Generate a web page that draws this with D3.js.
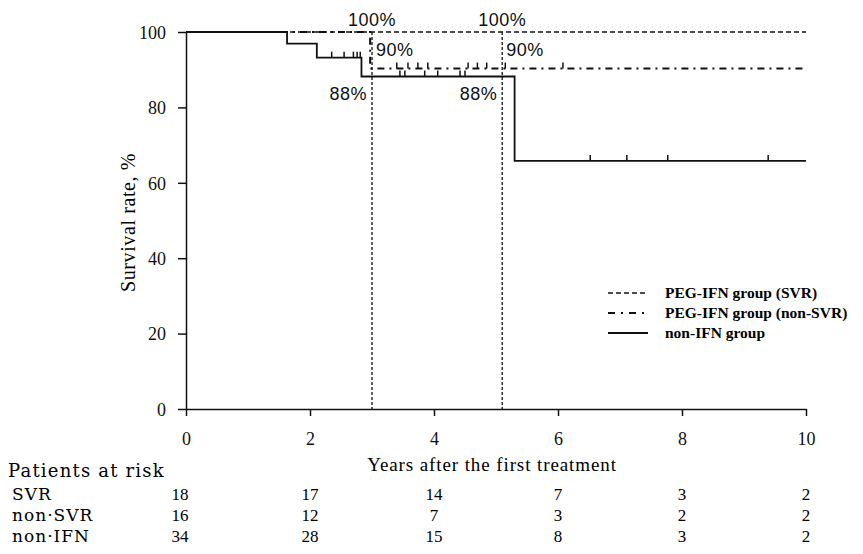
<!DOCTYPE html>
<html>
<head>
<meta charset="utf-8">
<script src="https://cdn.jsdelivr.net/npm/d3@7"></script>
<style>
  body { margin: 0; background: #fff; }
  svg { display: block; }
  .serif { font-family: "Liberation Serif", "DejaVu Serif", serif; }
  .wide { font-family: "DejaVu Serif", serif; }
  .sans { font-family: "Liberation Sans", Arial, sans-serif; }
</style>
</head>
<body>
<div id="chart"></div>
<script>
// x ticks (years) and risk table
const yearTicks = [0, 2, 4, 6, 8, 10];
const yTicks = [0, 20, 40, 60, 80, 100];
const riskGroups = ['SVR', 'non·SVR', 'non·IFN'];
const riskSVR = [18, 17, 14, 7, 3, 2];
const riskNonSVR = [16, 12, 7, 3, 2, 2];
const riskNonIFN = [34, 28, 15, 8, 3, 2];

// Kaplan-Meier steps: [time, survival after that time]
const svrSteps = [[0, 100], [10, 100]];
const nonSvrSteps = [[0, 100], [2.97, 90.3], [10, 90.3]];
const nonIfnSteps = [[0, 100], [1.63, 96.9], [2.11, 93.2], [2.83, 88.2], [5.3, 65.8], [10, 65.8]];

// censoring marks (years)
const nonSvrCensor = [3.4, 3.58, 3.74, 3.9, 4.55, 4.7, 4.85, 5.15, 6.08];
const nonIfnCensor = [2.35, 2.55, 2.7, 2.76, 2.81, 3.45, 3.53, 3.85, 4.06, 4.42, 4.5, 6.52, 7.11, 7.77, 9.39];

// reference time points and annotation labels
const refYears = [3, 5.1];
const svrLabels = ['100%', '100%'];
const nonSvrLabels = ['90%', '90%'];
const nonIfnLabels = ['88%', '88%'];

const legendNames = ['PEG-IFN group (SVR)', 'PEG-IFN group (non-SVR)', 'non-IFN group'];

const W = 863, H = 554;
const svg = d3.select('#chart').append('svg').attr('width', W).attr('height', H);

const x = d3.scaleLinear().domain([0, 10]).range([186, 806]);
const y = d3.scaleLinear().domain([0, 100]).range([409, 32]);

// axes
const xAxis = svg.append('g')
    .attr('transform', `translate(0,${y(0)})`)
    .call(d3.axisBottom(x).tickValues(yearTicks).tickSize(7).tickSizeOuter(0).tickPadding(16));
const yAxis = svg.append('g')
    .attr('transform', `translate(${x(0)},0)`)
    .call(d3.axisLeft(y).tickValues(yTicks).tickSize(8).tickSizeOuter(0).tickPadding(12));

[xAxis, yAxis].forEach(a => {
    a.selectAll('path, line').attr('stroke', '#111').attr('stroke-width', 1.5);
    a.selectAll('text').attr('class', 'serif').style('font-size', '18px').attr('fill', '#111');
});
yAxis.selectAll('text').attr('dy', '0.35em');

// axis titles
svg.append('text')
    .attr('class', 'serif')
    .attr('x', 492).attr('y', 471)
    .attr('text-anchor', 'middle')
    .style('font-size', '19px')
    .style('letter-spacing', '0.9px')
    .text('Years after the first treatment');

svg.append('text')
    .attr('class', 'serif')
    .attr('transform', `translate(135,${(y(0) + y(100)) / 2 + 2}) rotate(-90)`)
    .attr('text-anchor', 'middle')
    .style('font-size', '20px')
    .style('letter-spacing', '0.6px')
    .text('Survival rate, %');

// reference vertical lines
svg.selectAll('.ref')
    .data(refYears)
    .enter()
    .append('line')
    .attr('x1', d => x(d)).attr('x2', d => x(d))
    .attr('y1', y(100)).attr('y2', y(0))
    .attr('stroke', '#222')
    .attr('stroke-width', 1.4)
    .attr('stroke-dasharray', '3,2');

// step curves
const stepLine = d3.line()
    .x(d => x(d[0]))
    .y(d => y(d[1]))
    .curve(d3.curveStepAfter);

const series = [
    { steps: svrSteps, dash: '5,3', legendDash: '5,3', width: 1.3, censor: [] },
    { steps: nonSvrSteps, dash: '7,5,2,5', legendDash: '7,6,2,6', width: 2, censor: nonSvrCensor },
    { steps: nonIfnSteps, dash: null, legendDash: null, width: 1.8, censor: nonIfnCensor }
];

function valueAt(steps, t) {
    let v = steps[0][1];
    steps.forEach(s => { if (s[0] <= t) v = s[1]; });
    return v;
}

series.forEach(s => {
    svg.append('path')
        .datum(s.steps)
        .attr('d', stepLine)
        .attr('fill', 'none')
        .attr('stroke', '#111')
        .attr('stroke-width', s.width)
        .attr('stroke-dasharray', s.dash);

    svg.selectAll(null)
        .data(s.censor)
        .enter()
        .append('line')
        .attr('x1', d => x(d)).attr('x2', d => x(d))
        .attr('y1', d => y(valueAt(s.steps, d)))
        .attr('y2', d => y(valueAt(s.steps, d)) - 6)
        .attr('stroke', '#111')
        .attr('stroke-width', 1.5);
});

// percentage annotations
const annot = svg.append('g').attr('class', 'sans').style('font-size', '18px').attr('fill', '#111');
refYears.forEach((t, i) => {
    annot.append('text')
        .attr('x', x(t)).attr('y', y(100) - 6)
        .attr('text-anchor', 'middle')
        .style('letter-spacing', '0.5px')
        .text(svrLabels[i]);
    annot.append('text')
        .attr('x', x(t) + 4).attr('y', y(90) - 14)
        .style('letter-spacing', '0.5px')
        .text(nonSvrLabels[i]);
    annot.append('text')
        .attr('x', x(t) - 5).attr('y', y(88) + 23)
        .attr('text-anchor', 'end')
        .style('letter-spacing', '0.5px')
        .text(nonIfnLabels[i]);
});

// legend
const legend = svg.append('g').attr('class', 'serif');
series.forEach((s, i) => {
    const ly = 293 + i * 20;
    legend.append('line')
        .attr('x1', 608).attr('x2', 648)
        .attr('y1', ly).attr('y2', ly)
        .attr('stroke', '#111')
        .attr('stroke-width', s.width)
        .attr('stroke-dasharray', s.legendDash);
    legend.append('text')
        .attr('x', 665).attr('y', ly + 5)
        .style('font-size', '15.5px')
        .style('font-weight', 'bold')
        .text(legendNames[i]);
});

// patients at risk table
svg.append('text')
    .attr('class', 'wide')
    .attr('x', 8).attr('y', 477)
    .style('font-size', '18px')
    .style('letter-spacing', '1.2px')
    .text('Patients at risk');

const riskRows = [riskSVR, riskNonSVR, riskNonIFN];
riskRows.forEach((row, i) => {
    const ry = 500 + i * 21;
    svg.append('text')
        .attr('class', 'wide')
        .attr('x', 12).attr('y', ry)
        .style('font-size', '17px')
        .style('letter-spacing', '1px')
        .text(riskGroups[i]);
    svg.selectAll(null)
        .data(row)
        .enter()
        .append('text')
        .attr('class', 'serif')
        .attr('x', (d, j) => x(yearTicks[j]) - (j === 0 ? 6 : 0))
        .attr('y', ry)
        .attr('text-anchor', 'middle')
        .style('font-size', '17px')
        .text(d => d);
});
</script>
</body>
</html>
